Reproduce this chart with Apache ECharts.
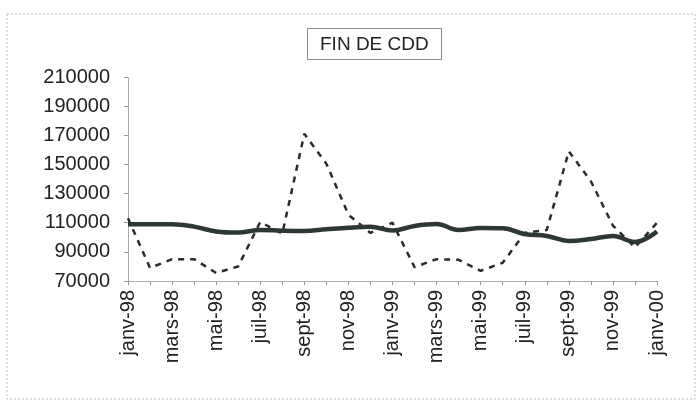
<!DOCTYPE html>
<html>
<head>
<meta charset="utf-8">
<script src="https://cdn.jsdelivr.net/npm/echarts@6/dist/echarts.min.js"></script>
<style>html,body{margin:0;padding:0;background:#fff}#c{width:699px;height:403px}</style>
</head>
<body>
<div id="c"></div>
<script>
const months = ["janv-98","févr-98","mars-98","avr-98","mai-98","juin-98","juil-98","août-98","sept-98","oct-98","nov-98","déc-98",
  "janv-99","févr-99","mars-99","avr-99","mai-99","juin-99","juil-99","août-99","sept-99","oct-99","nov-99","déc-99","janv-00"];
const finCddBrut = [113000,79000,85000,85000,75500,80000,110500,102500,171000,150500,115500,103000,
  110000,79500,85000,84500,77000,82500,103000,105000,159000,138500,108000,93000,110000];
const finCddCvs = [109000,109000,109000,107300,104000,103200,105000,104500,104300,105500,106600,107200,
  104600,107800,109100,105000,106400,106200,102200,100900,97500,98800,100900,96800,104000];
const yMin = 70000, yMax = 210000, yStep = 20000;
const titleText = "FIN DE CDD";

const chart = echarts.init(document.getElementById('c'), null, {renderer: 'canvas'});
const font = "'Liberation Sans', Arial, sans-serif";
chart.setOption({
  animation: false,
  backgroundColor: '#fff',
  graphic: [{
    type: 'rect', shape: {x: 7, y: 14, width: 688, height: 385},
    style: {fill: 'none', stroke: '#bbb', lineWidth: 1, lineDash: [2, 2]}
  }],
  title: {
    text: titleText, left: 307, top: 28,
    padding: [7, 13, 6, 13],
    borderColor: '#888', borderWidth: 1,
    textStyle: {fontFamily: font, fontSize: 19, fontWeight: 'normal', color: '#222'}
  },
  grid: {left: 128, right: 42, top: 77, bottom: 122},
  xAxis: {
    type: 'category', data: months, boundaryGap: false,
    axisLine: {lineStyle: {color: '#999', type: 'dotted', width: 1}},
    axisTick: {show: true, interval: 0, length: 4, inside: false, lineStyle: {color: '#999'}},
    axisLabel: {interval: 1, rotate: 90, fontFamily: font, fontSize: 20, color: '#222', margin: 9, padding: [8, 0, 0, 0]},
    splitLine: {show: false}
  },
  yAxis: {
    type: 'value', min: yMin, max: yMax, interval: yStep,
    axisLine: {show: true, lineStyle: {color: '#999', type: 'dotted', width: 1}},
    axisTick: {show: true, length: 4, lineStyle: {color: '#999'}},
    axisLabel: {fontFamily: font, fontSize: 20, color: '#222', margin: 18, formatter: v => String(v)},
    splitLine: {show: false}
  },
  series: [
    {
      type: 'line', data: finCddBrut, symbol: 'none', smooth: false,
      lineStyle: {color: '#2b2b2b', width: 2.5, type: [6, 6]}, z: 2
    },
    {
      type: 'line', data: finCddCvs, symbol: 'none', smooth: 0.4,
      lineStyle: {color: '#2e3833', width: 4.5}, z: 3
    }
  ]
});
</script>
</body>
</html>
